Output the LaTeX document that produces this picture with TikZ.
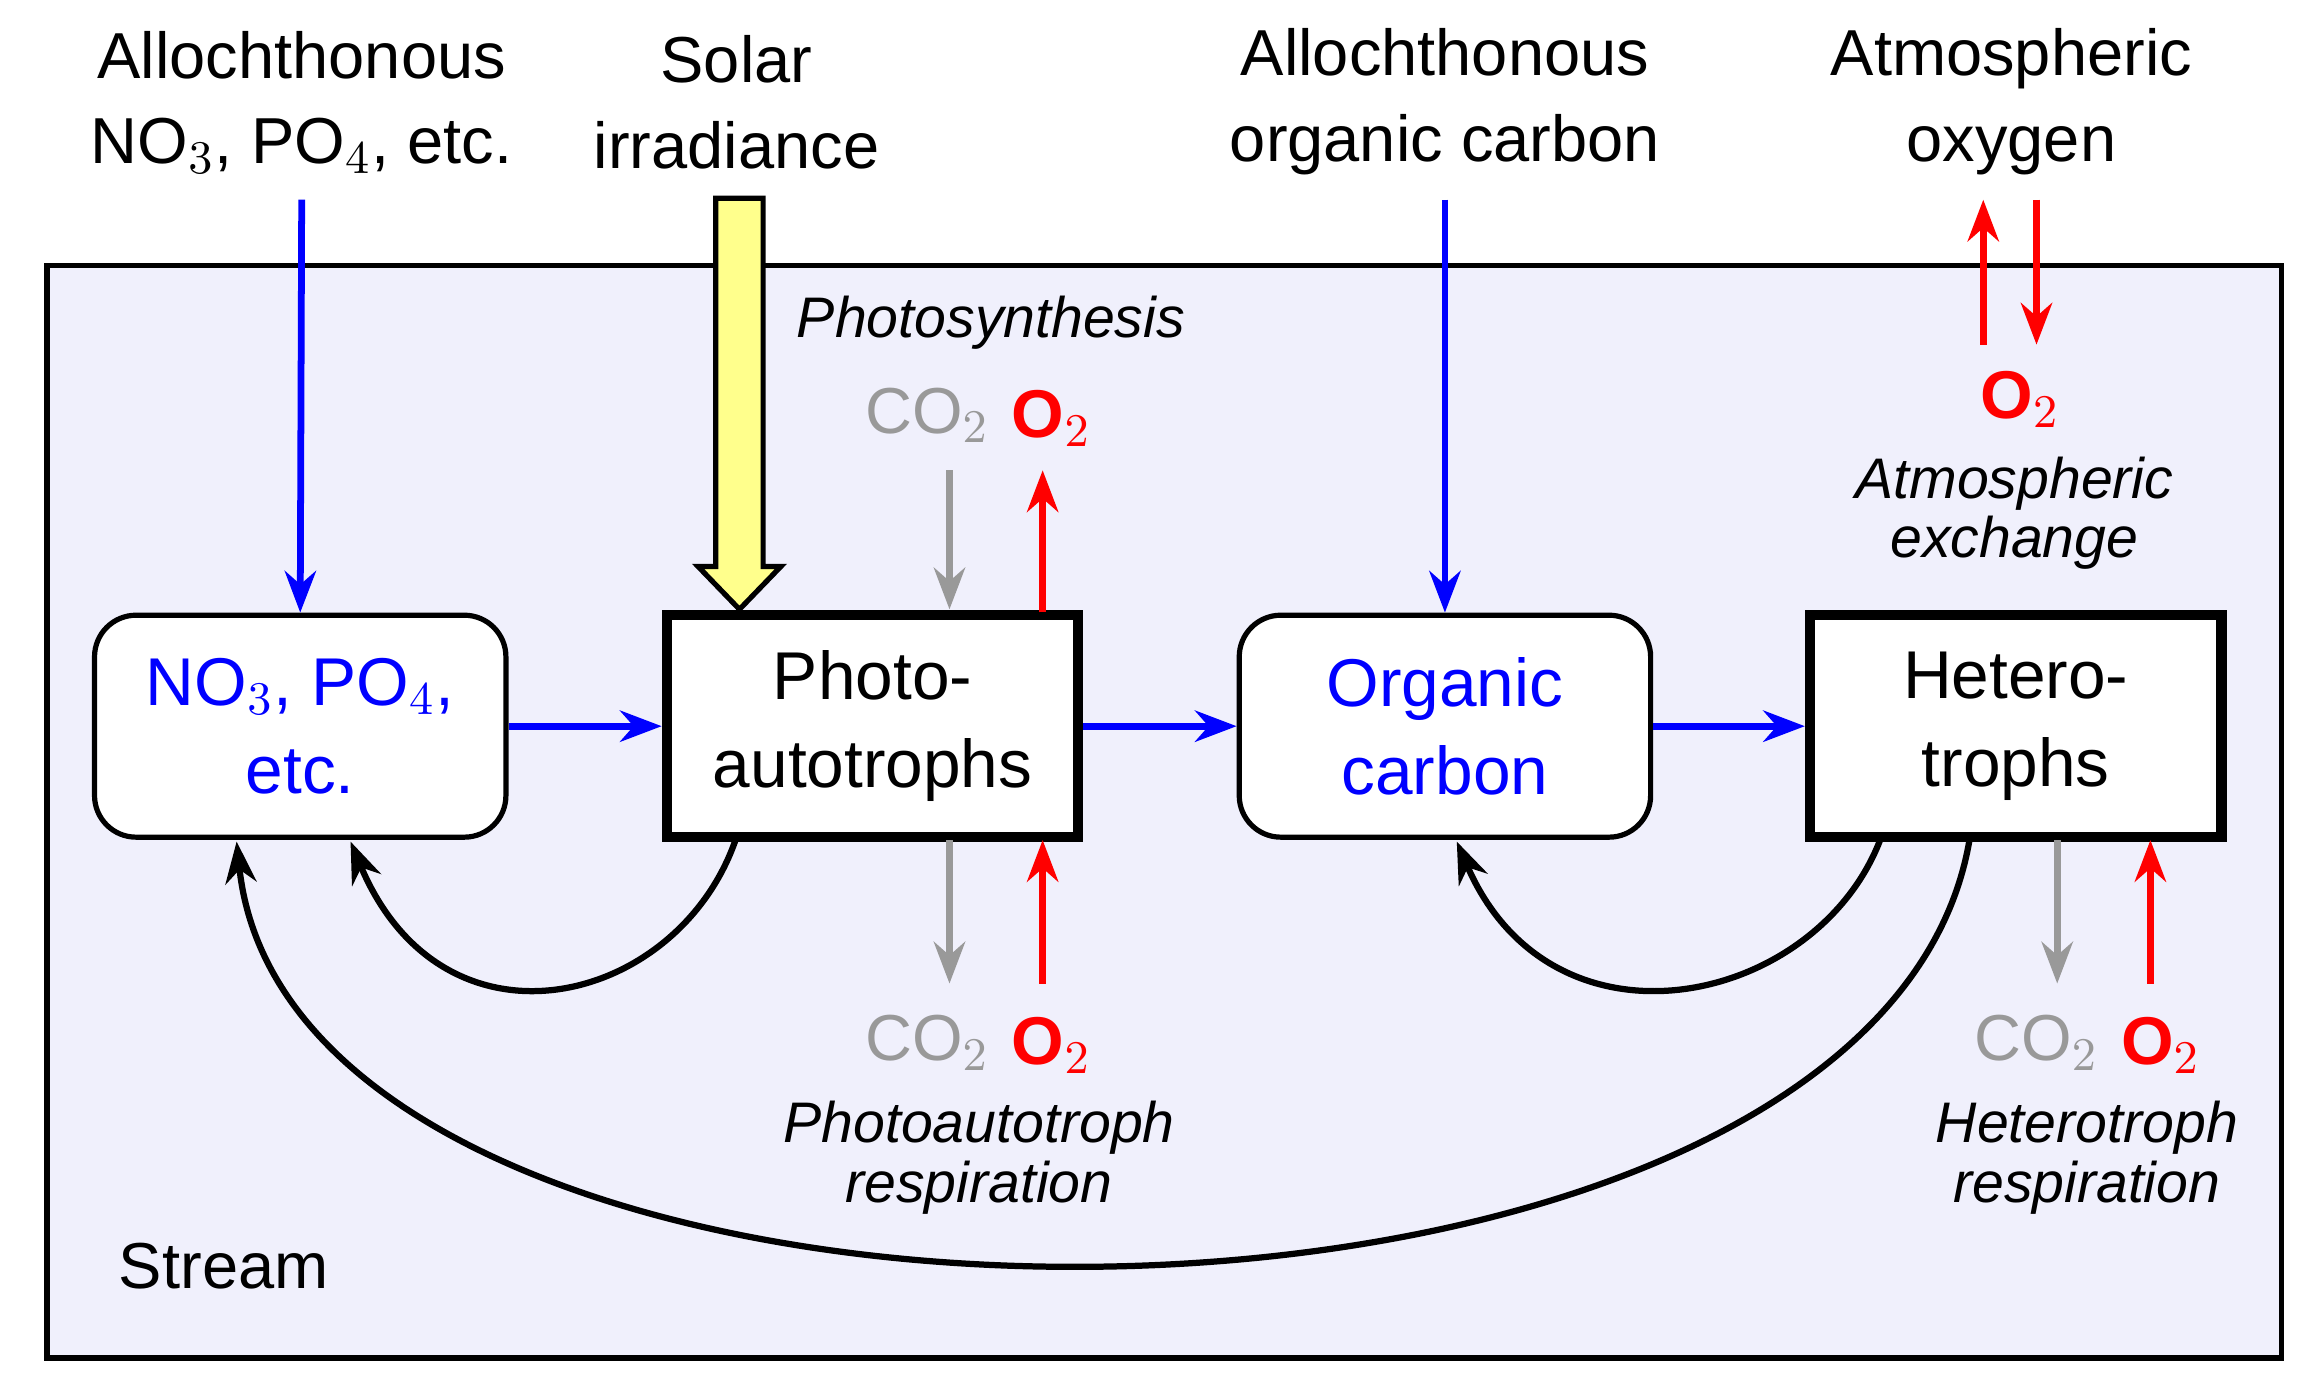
\documentclass[tikz,border=0pt]{standalone}
\usepackage{fontspec}
\setmainfont{Liberation Sans}
\usetikzlibrary{arrows.meta}
\definecolor{bgc}{RGB}{240,240,252}
\definecolor{yel}{RGB}{255,255,140}
\begin{document}
\begin{tikzpicture}[x=0.01cm,y=-0.01cm,
  bx/.style={draw,minimum width=278\pgflinewidth,align=center,font=\fontsize{12.5}{16.5}\selectfont},
  arr/.style={line width=1.3pt,-{Stealth[length=8pt,width=6pt]}},
  lab/.style={align=center,font=\fontsize{12.5}{16.5}\selectfont},
  it/.style={align=center,font=\fontsize{11}{11.5}\selectfont\itshape},
  cur/.style={line width=1.2pt,-{Stealth[length=8pt,width=6pt]}}]
\useasboundingbox (0,0) rectangle (1568,938);
\node[draw,line width=1pt,fill=bgc,minimum width=15.1cm,minimum height=7.38cm,anchor=north west] (stream) at (30,178) {};
\node[anchor=west,lab] (st) at (68,856) {Stream};
\tikzset{box/.style={draw,minimum width=2.78cm,minimum height=1.5cm,align=center,font=\fontsize{13}{17}\selectfont,fill=white}}
\node[box,rounded corners=8pt,line width=1pt,text=blue] (n) at (203,491) {NO$_3$, PO$_4$,\\etc.};
\node[box,line width=2pt] (p) at (590,491) {Photo-\\autotrophs};
\node[box,rounded corners=8pt,line width=1pt,text=blue] (o) at (977,491) {Organic\\carbon};
\node[box,line width=2pt] (h) at (1363,491) {Hetero-\\trophs};
\node[lab] (t1) at (204,69) {Allochthonous\\NO$_3$, PO$_4$, etc.};
\node[lab] (t2) at (498,69) {Solar\\irradiance};
\node[lab] (t3) at (977,69) {Allochthonous\\organic carbon};
\node[lab] (t4) at (1360,69) {Atmospheric\\oxygen};
\coordinate (a1) at (204,135);
\draw[arr,blue] (a1) -- (n.north);
\coordinate (a3) at (977,135);
\draw[arr,blue] (a3) -- (o.north);
\draw[arr,blue] (n.east) -- (p.west);
\draw[arr,blue] (p.east) -- (o.west);
\draw[arr,blue] (o.east) -- (h.west);
% yellow arrow
\draw[fill=yel,line width=1pt] (484,134) -- (516,134) -- (516,383) -- (528,383) -- (500,412) -- (472,383) -- (484,383) -- cycle;
\node[it] (ps) at (670,218) {Photosynthesis};
\node[lab,text=gray!80] (c1) at (627,281) {CO$_2$};
\node[lab,text=red,font=\fontsize{13}{16}\selectfont\bfseries] (o1) at (711,283) {O$_2$};
\coordinate (g1) at (642,318);
\draw[arr,gray!80] (g1) -- (642,412);
\coordinate (r1) at (705,318);
\draw[arr,red] (705,414) -- (r1);
\coordinate (g2) at (642,665);
\draw[arr,gray!80] (642,568) -- (g2);
\coordinate (r2) at (705,665);
\draw[arr,red] (r2) -- (705,568);
\node[lab,text=gray!80] (c2) at (627,705) {CO$_2$};
\node[lab,text=red,font=\fontsize{13}{16}\selectfont\bfseries] (o2) at (711,707) {O$_2$};
\node[it] (pr) at (662,783) {Photoautotroph\\respiration};
\coordinate (g3) at (1391,665);
\draw[arr,gray!80] (1391,568) -- (g3);
\coordinate (r3) at (1454,665);
\draw[arr,red] (r3) -- (1454,568);
\node[lab,text=gray!80] (c3) at (1377,705) {CO$_2$};
\node[lab,text=red,font=\fontsize{13}{16}\selectfont\bfseries] (o3) at (1461,707) {O$_2$};
\node[it] (hr) at (1411,783) {Heterotroph\\respiration};
\coordinate (u1) at (1341,233); \coordinate (u2) at (1341,135);
\draw[arr,red] (u1) -- (u2);
\coordinate (d1) at (1377,135); \coordinate (d2) at (1377,233);
\draw[arr,red] (d1) -- (d2);
\node[lab,text=red,font=\fontsize{13}{16}\selectfont\bfseries] (o4) at (1366,270) {O$_2$};
\node[it] (ae) at (1362,347) {Atmospheric\\exchange};
% curves
\coordinate (pb) at (498,566); \coordinate (nb) at (237,569);
\draw[cur] (pb) .. controls (460,680) and (300,720) .. (nb);
\coordinate (hb) at (1272,566); \coordinate (ob) at (985,569);
\draw[cur] (hb) .. controls (1230,680) and (1050,720) .. (ob);
\coordinate (hb2) at (1332,566); \coordinate (nb2) at (160,569);
\draw[cur] (hb2) .. controls (1270,950) and (200,950) .. (nb2);
\end{tikzpicture}
\end{document}
